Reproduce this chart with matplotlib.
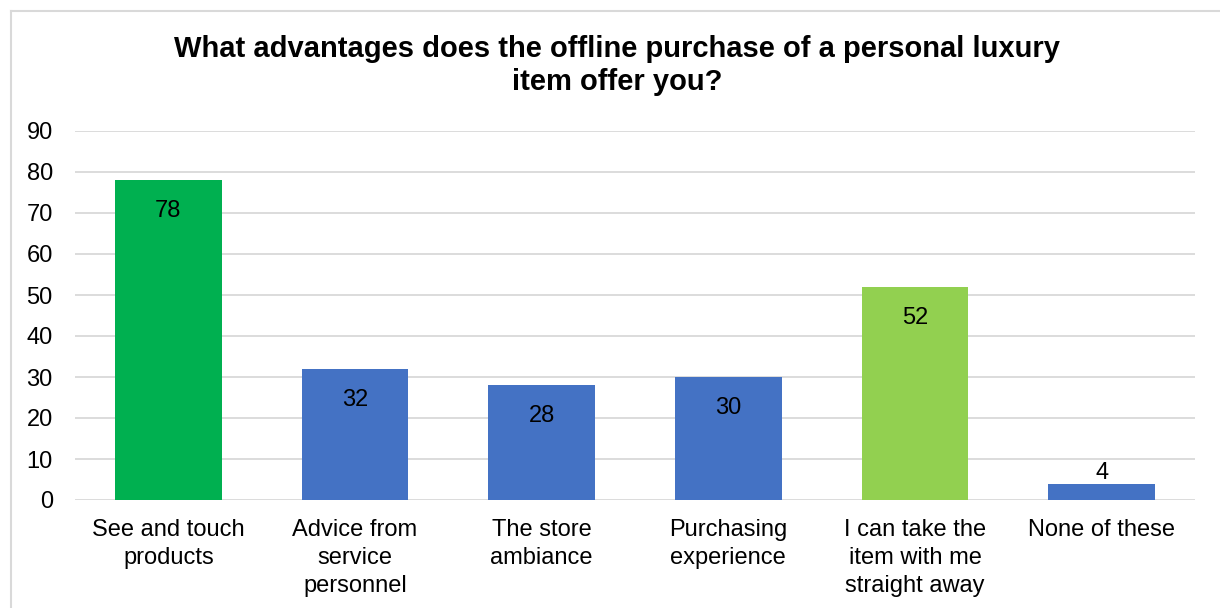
import matplotlib
matplotlib.use("Agg")
import matplotlib.pyplot as plt
from matplotlib.lines import Line2D

plt.rcParams['font.family'] = ['Liberation Sans', 'DejaVu Sans']

categories = ["See and touch\nproducts", "Advice from\nservice\npersonnel", "The store\nambiance",
              "Purchasing\nexperience", "I can take the\nitem with me\nstraight away", "None of these"]
values = [78, 32, 28, 30, 52, 4]
colors = ["#00B050", "#4472C4", "#4472C4", "#4472C4", "#92D050", "#4472C4"]
yticks = [0, 10, 20, 30, 40, 50, 60, 70, 80, 90]
title = "What advantages does the offline purchase of a personal luxury\nitem offer you?"

W, H = 1220, 608
fig = plt.figure(figsize=(W / 100, H / 100), dpi=100)
ax = fig.add_axes([75 / W, (H - 500) / H, 1120 / W, 369 / H])

FS = 17
x = list(range(len(categories)))
bars = ax.bar(x, values, width=0.57, color=colors, zorder=3)
ax.set_xlim(-0.5, len(categories) - 0.5)
ax.set_ylim(0, 90)
ax.set_yticks(yticks)
ax.set_xticks(x)
ax.set_xticklabels(categories, fontsize=FS, color="#000000", linespacing=1.34)
ax.tick_params(axis='y', labelsize=FS, colors="#000000", length=0, pad=16)
ax.tick_params(axis='x', length=0, pad=14)
ax.grid(axis='y', color="#D9D9D9", linewidth=1.3, zorder=0)
for s in ax.spines.values():
    s.set_visible(False)

for b, v in zip(bars, values):
    cx = b.get_x() + b.get_width() / 2
    if v > 8:
        ax.annotate(str(v), (cx, v), xytext=(0, -14.5), textcoords='offset points',
                    ha='center', va='top', fontsize=FS, color="#000000", zorder=4)
    else:
        ax.annotate(str(v), (cx, v), xytext=(0, 0), textcoords='offset points',
                    ha='center', va='bottom', fontsize=FS, color="#000000", zorder=4)

fig.text(0.5 * (172 + 1063) / W, 1 - 35 / H, title, ha='center', va='top',
         fontsize=21, fontweight='bold', color="#000000", linespacing=1.25)

# chart frame (left and top edges)
fig.add_artist(Line2D([10.5 / W, 10.5 / W], [0, 1 - 10.5 / H], transform=fig.transFigure,
                      color="#D9D9D9", linewidth=1.5))
fig.add_artist(Line2D([10.5 / W, 1], [1 - 10.5 / H, 1 - 10.5 / H], transform=fig.transFigure,
                      color="#D9D9D9", linewidth=1.5))

fig.savefig("out.png", dpi=100, facecolor="white")
